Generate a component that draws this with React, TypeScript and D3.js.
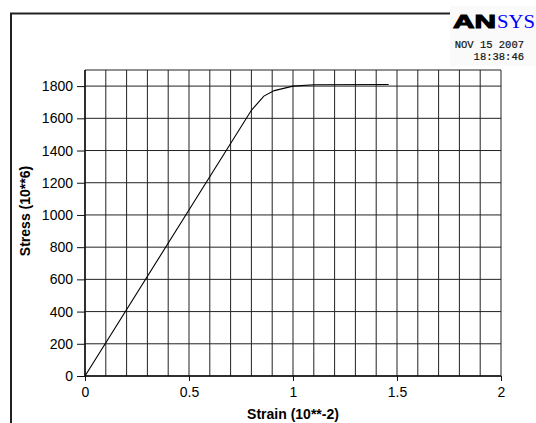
import React, { useEffect, useRef } from "react";
import * as d3 from "d3";

// stress-strain curve
const strain = [0, 0.8, 0.86, 0.91, 1.0, 1.1, 1.46];
const stress = [0, 1650, 1738, 1772, 1800, 1808, 1810];

const xTicks = [0, 0.5, 1, 1.5, 2];
const yTicks = [0, 200, 400, 600, 800, 1000, 1200, 1400, 1600, 1800];
const xGrid = d3.range(0, 21).map(i => i / 10);

const xTitle = "Strain (10**-2)";
const yTitle = "Stress (10**6)";
const stamp = ["NOV 15 2007", "18:38:46"];

export default function App() {
  const ref = useRef<SVGSVGElement>(null);

  useEffect(() => {
    const width = 536, height = 423;
    const margin = { top: 70, right: 35, bottom: 47, left: 85 };
    const svg = d3.select(ref.current);
    svg.selectAll("*").remove();

    const x = d3.scaleLinear().domain([0, 2]).range([margin.left, width - margin.right]);
    const y = d3.scaleLinear().domain([0, 1900]).range([height - margin.bottom, margin.top]);

    svg.append("rect").attr("width", width).attr("height", height).attr("fill", "#fff");

    // outer frame (left + top)
    svg.append("path")
      .attr("d", `M11,${height} V13.5 H${width}`)
      .attr("fill", "none")
      .attr("stroke", "#222")
      .attr("stroke-width", 2);

    // logo box
    svg.append("rect")
      .attr("x", 450).attr("y", 6).attr("width", 86).attr("height", 60)
      .attr("fill", "#fafafa");
    svg.append("text")
      .attr("x", 453).attr("y", 28)
      .attr("font-family", "Liberation Sans, Arial, sans-serif")
      .attr("font-weight", 900)
      .attr("font-size", 18)
      .attr("fill", "#000")
      .attr("stroke", "#000")
      .attr("stroke-width", 1)
      .attr("textLength", 43)
      .attr("lengthAdjust", "spacingAndGlyphs")
      .text("AN");
    svg.append("text")
      .attr("x", 497).attr("y", 28)
      .attr("font-family", "Liberation Serif, Times New Roman, serif")
      .attr("font-size", 19)
      .attr("fill", "#0000ff")
      .attr("textLength", 38)
      .attr("lengthAdjust", "spacingAndGlyphs")
      .text("SYS");
    svg.selectAll(".stamp")
      .data(stamp)
      .join("text")
      .attr("class", "stamp")
      .attr("x", 524)
      .attr("y", (d, i) => 48 + i * 12)
      .attr("text-anchor", "end")
      .attr("font-family", "Liberation Mono, Courier New, monospace")
      .attr("font-size", 10.5)
      .attr("fill", "#111")
      .attr("stroke", "#111")
      .attr("stroke-width", 0.2)
      .text(d => d);

    // grid
    svg.append("g")
      .selectAll("line")
      .data(xGrid)
      .join("line")
      .attr("x1", d => x(d)).attr("x2", d => x(d))
      .attr("y1", y(0)).attr("y2", y(1900))
      .attr("stroke", "#222")
      .attr("stroke-width", 1);
    svg.append("g")
      .selectAll("line")
      .data(yTicks.concat([1900]))
      .join("line")
      .attr("x1", x(0)).attr("x2", x(2))
      .attr("y1", d => y(d)).attr("y2", d => y(d))
      .attr("stroke", "#222")
      .attr("stroke-width", 1);

    // axes
    const xAxis = svg.append("g")
      .attr("transform", `translate(0,${y(0)})`)
      .call(d3.axisBottom(x).tickValues(xTicks).tickSize(5).tickPadding(6).tickFormat(d3.format("")));
    const yAxis = svg.append("g")
      .attr("transform", `translate(${x(0)},0)`)
      .call(d3.axisLeft(y).tickValues(yTicks).tickSize(8).tickPadding(4).tickFormat(d3.format("")));
    [xAxis, yAxis].forEach(g => {
      g.select(".domain").attr("stroke", "#111").attr("stroke-width", 1.5);
      g.selectAll(".tick line").attr("stroke", "#111");
      g.selectAll(".tick text")
        .attr("fill", "#000")
        .attr("font-family", "Liberation Sans, Arial, sans-serif")
        .attr("font-size", 14);
    });
    xAxis.select(".domain").attr("d", `M${x(0)},0H${x(2)}`);
    yAxis.select(".domain").attr("d", `M0,${y(0)}V${y(1900)}`);

    // curve
    const pts = strain.map((s, i) => [s, stress[i]] as [number, number]);
    svg.append("path")
      .datum(pts)
      .attr("d", d3.line().x(d => x(d[0])).y(d => y(d[1])))
      .attr("fill", "none")
      .attr("stroke", "#000")
      .attr("stroke-width", 1.1);

    // titles
    svg.append("text")
      .attr("x", (x(0) + x(2)) / 2)
      .attr("y", 419)
      .attr("text-anchor", "middle")
      .attr("font-family", "Liberation Sans, Arial, sans-serif")
      .attr("font-weight", "bold")
      .attr("font-size", 14)
      .text(xTitle);
    svg.append("text")
      .attr("transform", "translate(30,211) rotate(-90)")
      .attr("text-anchor", "middle")
      .attr("font-family", "Liberation Sans, Arial, sans-serif")
      .attr("font-weight", "bold")
      .attr("font-size", 14)
      .text(yTitle);
  }, []);

  return (
    <svg
      ref={ref}
      width={536}
      height={423}
      style={{ position: "absolute", left: 0, top: 0, display: "block" }}
    />
  );
}
